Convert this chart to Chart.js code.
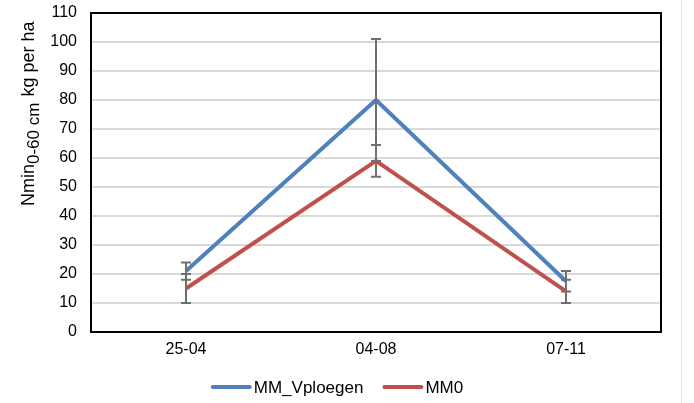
<!DOCTYPE html>
<html>
<head>
<meta charset="utf-8">
<script src="https://cdn.jsdelivr.net/npm/chart.js@4/dist/chart.umd.min.js"></script>
<style>
  html, body { margin: 0; padding: 0; background: #fff; }
  #wrap { position: relative; width: 694px; height: 403px; }
  #edge { position: absolute; left: 681px; top: 0; width: 1px; height: 403px; background: #e6e6e6; }
</style>
</head>
<body>
<div id="wrap">
  <canvas id="chart" width="694" height="403"></canvas>
  <div id="edge"></div>
</div>
<script>
var categories = ['25-04', '04-08', '07-11'];
var vploegen = [21, 80, 17.5];
var vploegenErr = [3, 21, 3.5];
var mm0 = [15, 59, 14];
var mm0Err = [5, 5.5, 4];
var yTicks = [0, 10, 20, 30, 40, 50, 60, 70, 80, 90, 100, 110];

var blue = '#4f81bd';
var red = '#c0504d';
var fam = '"Liberation Sans", Arial, sans-serif';

// error bars, drawn from the data through the chart's own scales
var errorBars = {
  id: 'errorBars',
  afterDatasetsDraw: function(chart) {
    var ctx = chart.ctx, x = chart.scales.x, y = chart.scales.y;
    ctx.save();
    ctx.strokeStyle = '#707070';
    ctx.lineWidth = 2;
    chart.data.datasets.forEach(function(ds) {
      ds.data.forEach(function(v, i) {
        var px = x.getPixelForValue(i);
        var top = y.getPixelForValue(v + ds.err[i]);
        var bot = y.getPixelForValue(v - ds.err[i]);
        ctx.beginPath();
        ctx.moveTo(px, top); ctx.lineTo(px, bot);
        ctx.moveTo(px - 5, top); ctx.lineTo(px + 5, top);
        ctx.moveTo(px - 5, bot); ctx.lineTo(px + 5, bot);
        ctx.stroke();
      });
    });
    ctx.restore();
  }
};

// plot frame, y-axis title with subscript, and the legend row
var frameAndTitle = {
  id: 'frameAndTitle',
  afterDraw: function(chart) {
    var ctx = chart.ctx, a = chart.chartArea;
    ctx.save();
    ctx.strokeStyle = '#000';
    ctx.lineWidth = 2;
    ctx.strokeRect(a.left, a.top, a.right - a.left, a.bottom - a.top);

    ctx.save();
    ctx.translate(34, 206);
    ctx.rotate(-Math.PI / 2);
    ctx.fillStyle = '#000';
    ctx.textBaseline = 'alphabetic';
    ctx.font = '18px ' + fam;
    var s1 = 'Nmin';
    ctx.fillText(s1, 0, 0);
    var w = ctx.measureText(s1).width;
    ctx.font = '17px ' + fam;
    var s2 = '0-60 cm';
    ctx.fillText(s2, w, 5);
    w += ctx.measureText(s2).width;
    ctx.font = '18px ' + fam;
    ctx.fillText(' kg per ha', w + 1, 0);
    ctx.restore();

    // legend
    ctx.font = '17px ' + fam;
    ctx.textBaseline = 'middle';
    var ds = chart.data.datasets;
    var total = 0;
    ds.forEach(function(d, i) { total += 41 + 2 + ctx.measureText(d.label).width + (i ? 19 : 0); });
    var lx = 337 - total / 2, ly = 387;
    ds.forEach(function(d) {
      ctx.strokeStyle = d.borderColor;
      ctx.lineWidth = 4;
      ctx.lineCap = 'round';
      ctx.beginPath();
      ctx.moveTo(lx + 2, ly); ctx.lineTo(lx + 39, ly);
      ctx.stroke();
      ctx.fillStyle = '#000';
      ctx.fillText(d.label, lx + 43, ly + 1);
      lx += 43 + ctx.measureText(d.label).width + 19;
    });
    ctx.restore();
  }
};

new Chart(document.getElementById('chart'), {
  type: 'line',
  data: {
    labels: categories,
    datasets: [
      { label: 'MM_Vploegen', data: vploegen, err: vploegenErr, borderColor: blue, backgroundColor: blue, borderWidth: 4, pointRadius: 0, tension: 0 },
      { label: 'MM0', data: mm0, err: mm0Err, borderColor: red, backgroundColor: red, borderWidth: 4, pointRadius: 0, tension: 0 }
    ]
  },
  options: {
    responsive: false,
    animation: false,
    layout: { padding: { top: 13, right: 33, left: 0, bottom: 31 } },
    plugins: {
      legend: { display: false },
      tooltip: { enabled: false }
    },
    scales: {
      x: {
        offset: true,
        grid: { display: false },
        border: { display: true, color: '#000', width: 2 },
        ticks: { color: '#000', padding: 0, font: { size: 16, family: fam } },
        afterFit: function(s) { s.height = 40; }
      },
      y: {
        min: 0, max: 110,
        afterBuildTicks: function(s) { s.ticks = yTicks.map(function(v) { return { value: v }; }); },
        grid: { color: '#d9d9d9', lineWidth: 2, drawTicks: false },
        border: { display: true, color: '#000', width: 2 },
        ticks: { color: '#000', padding: 14, font: { size: 16, family: fam } },
        afterFit: function(s) { s.width = 91; s.paddingTop = 0; s.paddingBottom = 0; }
      }
    }
  },
  plugins: [errorBars, frameAndTitle]
});
</script>
</body>
</html>
